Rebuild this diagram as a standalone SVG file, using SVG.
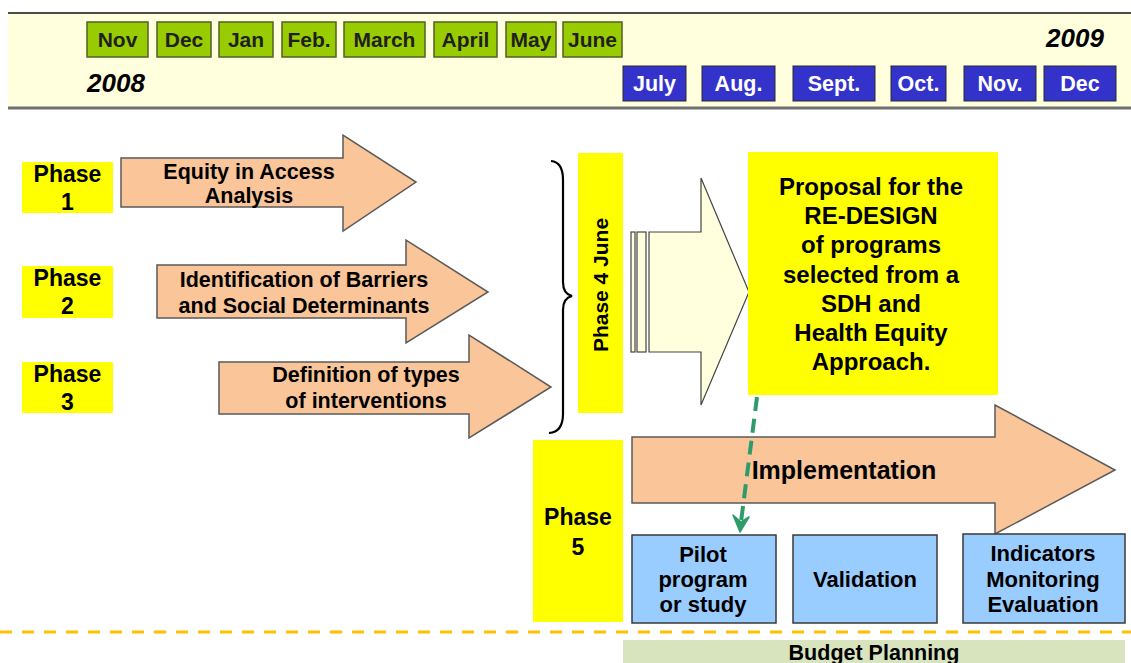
<svg xmlns="http://www.w3.org/2000/svg" width="1131" height="663" viewBox="0 0 1131 663">
<style>
text { font-family: "Liberation Sans", Arial, sans-serif; font-weight: bold; fill: #000; }
.mg { fill: #99CC00; stroke: #4F6228; stroke-width: 1.5; }
.mgt { font-size: 21px; fill: #1f1f1f; text-anchor: middle; }
.mb { fill: #3333CC; stroke: #2a2a2a; stroke-width: 1; }
.mbt { font-size: 21.5px; fill: #fff; text-anchor: middle; }
.yr { font-size: 26px; font-style: italic; }
.ph { fill: #FFFF00; }
.pht { font-size: 23px; text-anchor: middle; }
.arr { fill: #FAC598; stroke: #5a5a5a; stroke-width: 1.5; }
.at { font-size: 21.5px; text-anchor: middle; }
.blue { fill: #99CCFF; stroke: #3a3a3a; stroke-width: 1.5; }
.bt { font-size: 22px; text-anchor: middle; }
.hollow { fill: #FFFFDD; stroke: #444; stroke-width: 1.2; }
</style>

<g id="timeline">
  <rect x="8" y="13" width="1123" height="95" fill="#FFFFDD"/>
  <line x1="8" y1="13" x2="1131" y2="13" stroke="#111" stroke-width="1.5"/>
  <line x1="8" y1="108" x2="1131" y2="108" stroke="#707070" stroke-width="3"/>
  <text class="yr" x="87" y="92">2008</text>
  <text class="yr" x="1046" y="47">2009</text>
</g>

<g id="months-2008">
  <rect class="mg" x="87" y="22" width="61" height="35"/><text class="mgt" x="117.5" y="47">Nov</text>
  <rect class="mg" x="157" y="22" width="54" height="35"/><text class="mgt" x="184" y="47">Dec</text>
  <rect class="mg" x="219" y="22" width="54" height="35"/><text class="mgt" x="246" y="47">Jan</text>
  <rect class="mg" x="282" y="22" width="54" height="35"/><text class="mgt" x="309" y="47">Feb.</text>
  <rect class="mg" x="344" y="22" width="81" height="35"/><text class="mgt" x="384.5" y="47">March</text>
  <rect class="mg" x="434" y="22" width="63" height="35"/><text class="mgt" x="465.5" y="47">April</text>
  <rect class="mg" x="506" y="22" width="50" height="35"/><text class="mgt" x="531" y="47">May</text>
  <rect class="mg" x="563" y="22" width="59" height="35"/><text class="mgt" x="592.5" y="47">June</text>
</g>

<g id="months-2009">
  <rect class="mb" x="623" y="66" width="63" height="35"/><text class="mbt" x="654.5" y="91">July</text>
  <rect class="mb" x="702" y="66" width="73" height="35"/><text class="mbt" x="738.5" y="91">Aug.</text>
  <rect class="mb" x="793" y="66" width="82" height="35"/><text class="mbt" x="834" y="91">Sept.</text>
  <rect class="mb" x="891" y="66" width="55" height="35"/><text class="mbt" x="918.5" y="91">Oct.</text>
  <rect class="mb" x="964" y="66" width="72" height="35"/><text class="mbt" x="1000" y="91">Nov.</text>
  <rect class="mb" x="1044" y="66" width="72" height="35"/><text class="mbt" x="1080" y="91">Dec</text>
</g>

<g id="phase1">
  <rect class="ph" x="22" y="162" width="91" height="51"/>
  <text class="pht" x="67.5" y="182">Phase</text>
  <text class="pht" x="67.5" y="210">1</text>
</g>
<g id="phase2">
  <rect class="ph" x="22" y="266" width="91" height="52"/>
  <text class="pht" x="67.5" y="286">Phase</text>
  <text class="pht" x="67.5" y="314">2</text>
</g>
<g id="phase3">
  <rect class="ph" x="22" y="362" width="91" height="51"/>
  <text class="pht" x="67.5" y="382">Phase</text>
  <text class="pht" x="67.5" y="410">3</text>
</g>

<g id="arrow-equity">
  <polygon class="arr" points="121,158 343,158 343,135 416,182 343,231 343,207 121,207"/>
  <text class="at" x="249" y="179">Equity in Access</text>
  <text class="at" x="249" y="203">Analysis</text>
</g>
<g id="arrow-barriers">
  <polygon class="arr" points="157,265 406,265 406,240 488,292 406,343 406,318 157,318"/>
  <text class="at" x="304" y="287">Identification of Barriers</text>
  <text class="at" x="304" y="313">and Social Determinants</text>
</g>
<g id="arrow-interventions">
  <polygon class="arr" points="219,362 469,362 469,335 551,387 469,438 469,414 219,414"/>
  <text class="at" x="366" y="382">Definition of types</text>
  <text class="at" x="366" y="408">of interventions</text>
</g>

<g id="brace">
  <path d="M551,161 Q563,162 563,180 L563,282 Q563,294 572,296 Q563,298 563,310 L563,414 Q563,432 549,433" fill="none" stroke="#000" stroke-width="2.2"/>
</g>

<g id="phase4">
  <rect class="ph" x="578" y="153" width="45" height="260"/>
  <text font-size="21" text-anchor="middle" transform="translate(608,285) rotate(-90)">Phase 4 June</text>
</g>

<g id="striped-arrow">
  <rect class="hollow" x="631" y="232" width="4" height="120"/>
  <rect class="hollow" x="637" y="232" width="9" height="120"/>
  <polygon class="hollow" points="649,232 701,232 701,178 749,292 701,405 701,352 649,352"/>
</g>

<g id="proposal">
  <rect class="ph" x="748" y="152" width="250" height="243"/>
  <g font-size="24" text-anchor="middle">
    <text x="871" y="195">Proposal for the</text>
    <text x="871" y="224">RE-DESIGN</text>
    <text x="871" y="253">of programs</text>
    <text x="871" y="283">selected from a</text>
    <text x="871" y="312">SDH and</text>
    <text x="871" y="341">Health Equity</text>
    <text x="871" y="370">Approach.</text>
  </g>
</g>

<g id="phase5">
  <rect class="ph" x="533" y="440" width="90" height="182"/>
  <text class="pht" x="578" y="525">Phase</text>
  <text class="pht" x="578" y="555">5</text>
</g>

<g id="implementation">
  <polygon class="arr" points="632,437 995,437 995,405 1115,470 995,534 995,503 632,503"/>
  <text x="844" y="479" font-size="25" text-anchor="middle">Implementation</text>
</g>

<g id="pilot">
  <rect class="blue" x="632" y="535" width="144" height="88"/>
  <text class="bt" x="703" y="562">Pilot</text>
  <text class="bt" x="703" y="587">program</text>
  <text class="bt" x="703" y="612">or study</text>
</g>
<g id="validation">
  <rect class="blue" x="793" y="535" width="144" height="88"/>
  <text class="bt" x="865" y="587">Validation</text>
</g>
<g id="indicators">
  <rect class="blue" x="963" y="534" width="162" height="89"/>
  <text class="bt" x="1043" y="561">Indicators</text>
  <text class="bt" x="1043" y="587">Monitoring</text>
  <text class="bt" x="1043" y="612">Evaluation</text>
</g>

<g id="divider">
  <line x1="0" y1="632" x2="1131" y2="632" stroke="#FFC000" stroke-width="3" stroke-dasharray="12 10"/>
</g>

<g id="budget">
  <rect x="623" y="640" width="502" height="30" fill="#D7E4BD"/>
  <text x="874" y="660" font-size="21.5" text-anchor="middle">Budget Planning</text>
</g>

<g id="connectors">
  <line x1="757" y1="397" x2="741" y2="522" stroke="#2E9B6B" stroke-width="4" stroke-dasharray="14 8"/>
  <polygon points="733,515 740,532 749,517 741,522" fill="#2E9B6B" stroke="#2E9B6B" stroke-width="1.5" stroke-linejoin="round"/>
</g>
</svg>
